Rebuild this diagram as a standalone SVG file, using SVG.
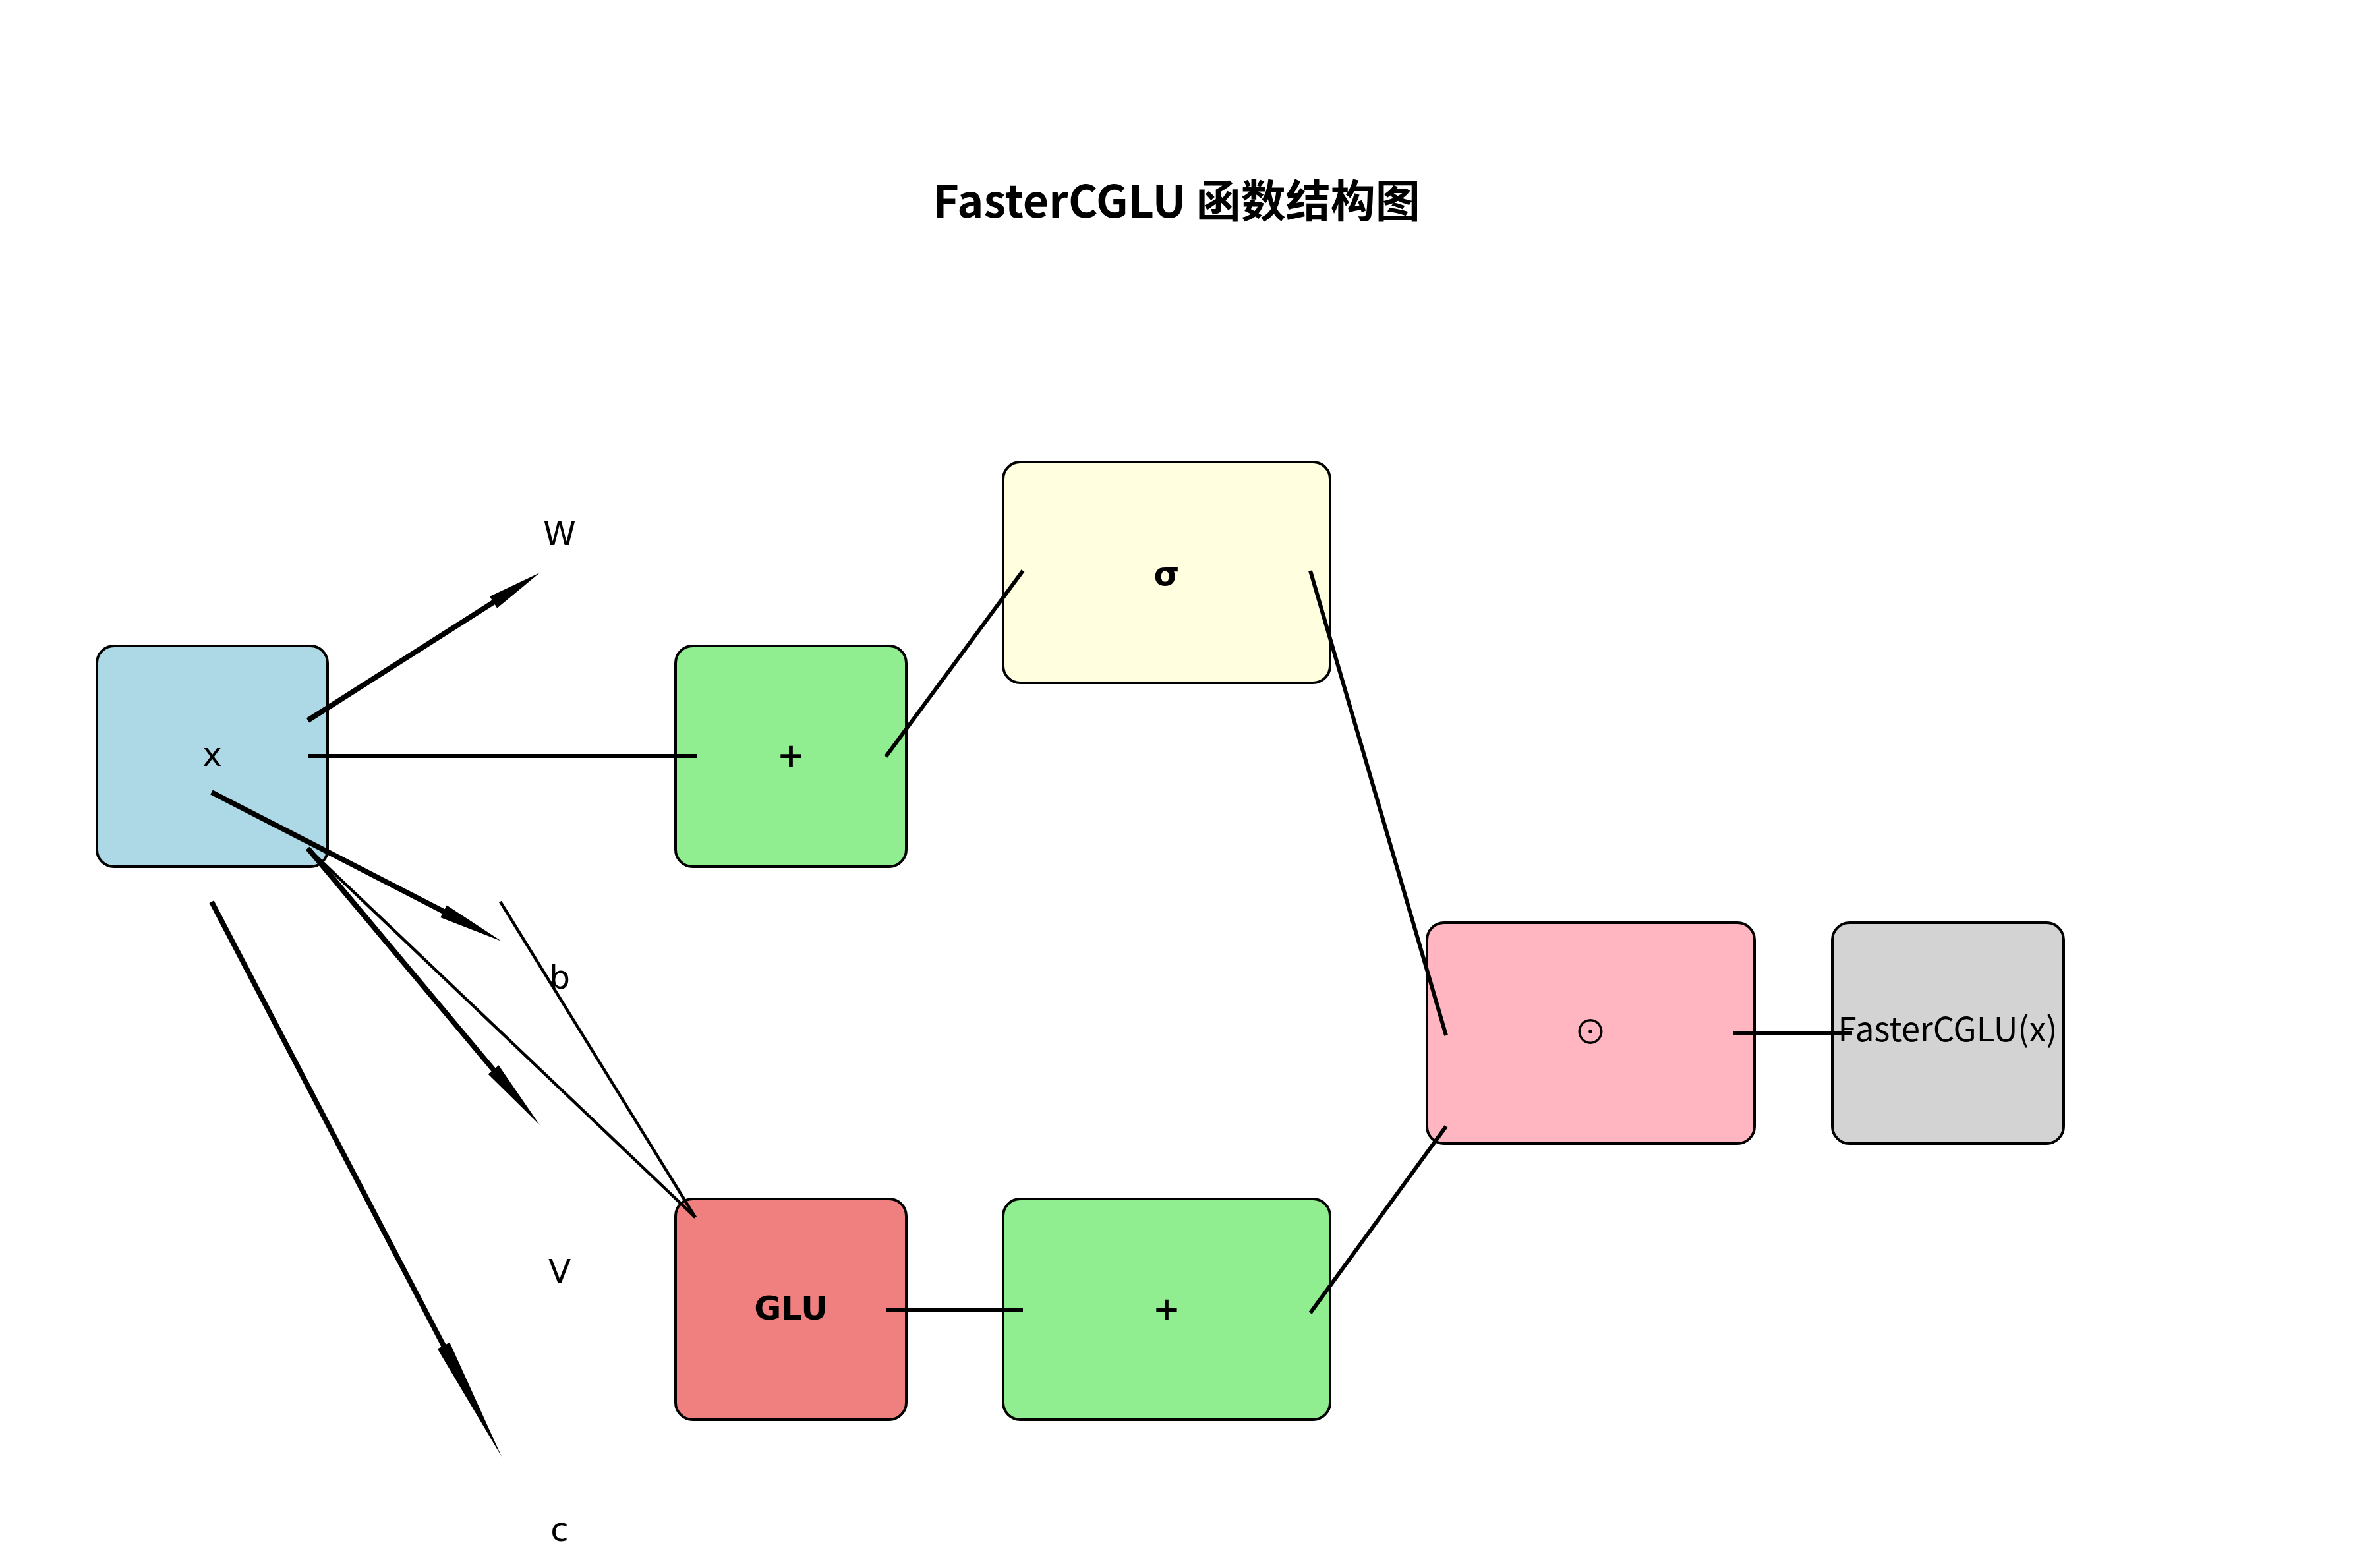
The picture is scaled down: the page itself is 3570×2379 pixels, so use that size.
<svg xmlns="http://www.w3.org/2000/svg" width="3570" height="2379" viewBox="0 0 3570 2379">
<style>
.box{stroke:#000;stroke-width:4}
.lbl{font-family:"DejaVu Sans",sans-serif;font-size:50px;fill:#000;text-anchor:middle}
.op{font-family:"DejaVu Sans",sans-serif;font-size:50px;font-weight:bold;fill:#000;text-anchor:middle}
.title{font-family:"Noto Sans CJK SC",sans-serif;font-size:68px;font-weight:bold;fill:#000;text-anchor:middle}
.out{font-family:"Noto Sans CJK SC",sans-serif;font-size:51px;fill:#000;text-anchor:middle}
.ln{stroke:#000;stroke-width:6;fill:none}
.thin{stroke:#000;stroke-width:4.5;fill:none}
.arr{fill:#000;stroke:none}
</style>
<rect width="3570" height="2379" fill="#fff"/>
<text class="title" x="1785" y="330">FasterCGLU 函数结构图</text>

<g id="node-x">
<rect class="box" x="147" y="980" width="350" height="335" rx="26" fill="#ADD8E6"/>
<text class="lbl" x="322" y="1162" font-size="52">x</text>
</g>
<g id="node-add1">
<rect class="box" x="1025" y="980" width="350" height="335" rx="26" fill="#90EE90"/>
<text class="op" x="1200" y="1163">+</text>
</g>
<g id="node-sigma">
<rect class="box" x="1522" y="701" width="496" height="335" rx="26" fill="#FFFFE0"/>
<text class="op" x="1770" y="888" font-size="62">σ</text>
</g>
<g id="node-hadamard">
<rect class="box" x="2165" y="1400" width="497" height="335" rx="26" fill="#FFB6C1"/>
<text x="2413" y="1584" font-family="'Noto Sans CJK SC',sans-serif" font-size="50" text-anchor="middle" fill="#000">⊙</text>
</g>
<g id="node-output">
<rect class="box" x="2780" y="1400" width="351" height="335" rx="26" fill="#D3D3D3"/>
<text class="out" x="2955" y="1580">FasterCGLU(x)</text>
</g>
<g id="node-glu">
<rect class="box" x="1025" y="1819" width="350" height="335" rx="26" fill="#F08080"/>
<text class="op" x="1200" y="2002">GLU</text>
</g>
<g id="node-add2">
<rect class="box" x="1522" y="1819" width="496" height="335" rx="26" fill="#90EE90"/>
<text class="op" x="1770" y="2003">+</text>
</g>

<g id="labels">
<text class="lbl" x="849" y="827">W</text>
<text class="lbl" x="849" y="1500">b</text>
<text class="lbl" x="849" y="1946">V</text>
<text class="lbl" x="849" y="2338">c</text>
</g>

<g id="connectors">
<line class="ln" x1="467" y1="1147" x2="1057" y2="1147"/>
<line class="ln" x1="1344" y1="1148" x2="1552" y2="866"/>
<line class="ln" x1="1988" y1="866" x2="2194" y2="1571"/>
<line class="ln" x1="1344" y1="1987" x2="1552" y2="1987"/>
<line class="ln" x1="1988" y1="1992" x2="2194" y2="1709"/>
<line class="ln" x1="2630" y1="1568" x2="2810" y2="1568"/>
<line class="thin" x1="467" y1="1287" x2="1055" y2="1847"/>
<line class="thin" x1="759" y1="1368" x2="1055" y2="1847"/>
<polygon class="arr" points="469.1,1096.4 750.8,917.2 754.2,922.7 819,869 743.0,904.9 746.5,910.4 464.9,1089.6"/>
<polygon class="arr" points="319.2,1205.6 671.2,1386.4 668.2,1392.1 761,1428 677.8,1373.5 674.8,1379.2 322.8,1198.4"/>
<polygon class="arr" points="463.9,1289.6 745.5,1625.6 740.6,1629.7 819,1707 756.6,1616.3 751.7,1620.4 470.1,1284.4"/>
<polygon class="arr" points="317.5,1369.9 669.5,2043.5 663.7,2046.5 761,2210 682.3,2036.7 676.5,2039.8 324.5,1366.2"/>
</g>
</svg>
